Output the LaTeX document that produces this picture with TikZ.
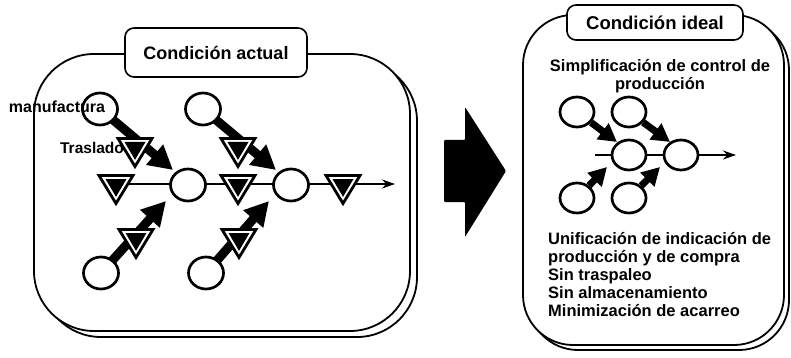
\documentclass[tikz,border=0pt]{standalone}
\usepackage{fontspec}
\setmainfont{Liberation Sans}
\usetikzlibrary{arrows.meta,shapes.geometric}
\pgfdeclarelayer{bg}
\pgfdeclarelayer{mid}
\pgfsetlayers{bg,mid,main}
\begin{document}
\begin{tikzpicture}[x=1pt,y=-1pt,
  panel/.style={draw, line width=1.8pt, rounded corners=60pt},
  titlebox/.style={draw, line width=1.6pt, rounded corners=9pt, fill=white, inner sep=0pt, font=\bfseries\fontsize{18}{20}\selectfont},
  circ/.style={draw, ellipse, line width=2.7pt, fill=white, minimum width=35pt, minimum height=32pt, inner sep=0pt},
  smallcirc/.style={circ, minimum width=34pt, minimum height=30pt},
  fat/.style={line width=9pt, -{Triangle[length=24pt,width=25pt]}},
  fatsmall/.style={line width=7pt, -{Triangle[length=18pt,width=19pt]}},
  flow/.style={line width=1.8pt, -{Stealth[length=13pt,width=9pt]}},
  lbl/.style={font=\bfseries\fontsize{16}{18}\selectfont, inner sep=0pt},
  listtxt/.style={font=\bfseries\fontsize{16.5}{18}\selectfont, inner sep=0pt, anchor=base west},
  invtri/.pic={
    \draw[line width=2.8pt, fill=white, line join=miter] (-17,-8.5) -- (17,-8.5) -- (0,19.5) -- cycle;
    \fill (-10.5,-5) -- (10.5,-5) -- (0,12.8) -- cycle;
  }
]
\useasboundingbox (0,0) rectangle (791,358);

% ---------- panels and titles (bottom layer) ----------
\begin{pgfonlayer}{bg}
\draw[panel] (41,61) rectangle (417,337);
\draw[panel, fill=white] (34,54) rectangle (410,331);
\node[titlebox, minimum width=182pt, minimum height=49pt] (tA) at (216,52.5) {Condición actual};
\draw[panel, rounded corners=50pt] (528,20) rectangle (789,350);
\draw[panel, rounded corners=50pt, fill=white] (523,15) rectangle (784,345);
\node[titlebox, minimum width=176pt, minimum height=35pt, font=\bfseries\fontsize{18.5}{20}\selectfont] (tB) at (655,22.5) {Condición ideal};
\end{pgfonlayer}

% ---------- left panel ----------
\node[circ] (m1) at (188,185) {};
\node[circ] (m2) at (291,185) {};
\node[circ] (u1) at (100,109) {};
\node[circ] (u2) at (203,109) {};
\node[circ] (d1) at (101,273) {};
\node[circ] (d2) at (206,273) {};

\coordinate (L0) at (116,184);
\coordinate (Lend) at (395,184);
\coordinate (tu1) at (173,170);
\coordinate (tu2) at (276,170);
\coordinate (td1) at (166,201);
\coordinate (td2) at (269,201);

\begin{pgfonlayer}{mid}
\draw[flow] (L0) -- (Lend);
\draw[fat] (u1.center) -- (tu1);
\draw[fat] (u2.center) -- (tu2);
\draw[fat] (d1.center) -- (td1);
\draw[fat] (d2.center) -- (td2);
\pic (tr1) at (116,184) {invtri};
\pic (tr2) at (238,184) {invtri};
\pic (tr3) at (343,184) {invtri};
\pic (tr4) at (135,147) {invtri};
\pic (tr5) at (238,147) {invtri};
\pic (tr6) at (136,238) {invtri};
\pic (tr7) at (239,238) {invtri};
\end{pgfonlayer}

\node[lbl] (manu) at (57,107) {manufactura};
\node[lbl, font=\bfseries\fontsize{15.5}{18}\selectfont] (tras) at (92,148) {Traslado};

% ---------- big arrow ----------
\fill[rounded corners=1pt] (444,140) -- (465,140) -- (465,107) -- (506,171) -- (465,237) -- (465,202) -- (444,202) -- cycle;

% ---------- right panel ----------
\node[lbl, font=\bfseries\fontsize{16.5}{18}\selectfont, align=center] (simp) at (660,76) {Simplificación de control de\\producción};

\node[smallcirc] (ru1) at (577,112) {};
\node[smallcirc] (ru2) at (629,112) {};
\node[smallcirc] (rm1) at (629,155) {};
\node[smallcirc] (rm2) at (681,155) {};
\node[smallcirc] (rd1) at (577,198) {};
\node[smallcirc] (rd2) at (629,198) {};

\coordinate (R0) at (595,155);
\coordinate (Rend) at (736,155);
\coordinate (rt1) at (617,142);
\coordinate (rt2) at (670,142);
\coordinate (rt3) at (607,167);
\coordinate (rt4) at (660,167);

\begin{pgfonlayer}{mid}
\draw[flow] (R0) -- (Rend);
\draw[fatsmall] (ru1) -- (rt1);
\draw[fatsmall] (ru2) -- (rt2);
\draw[fatsmall] (rd1) -- (rt3);
\draw[fatsmall] (rd2) -- (rt4);
\end{pgfonlayer}

\node[listtxt] (l1) at (548,244) {Unificación de indicación de};
\node[listtxt] (l2) at (548,262) {producción y de compra};
\node[listtxt] (l3) at (548,280) {Sin traspaleo};
\node[listtxt] (l4) at (548,298) {Sin almacenamiento};
\node[listtxt] (l5) at (548,316) {Minimización de acarreo};
\end{tikzpicture}
\end{document}
